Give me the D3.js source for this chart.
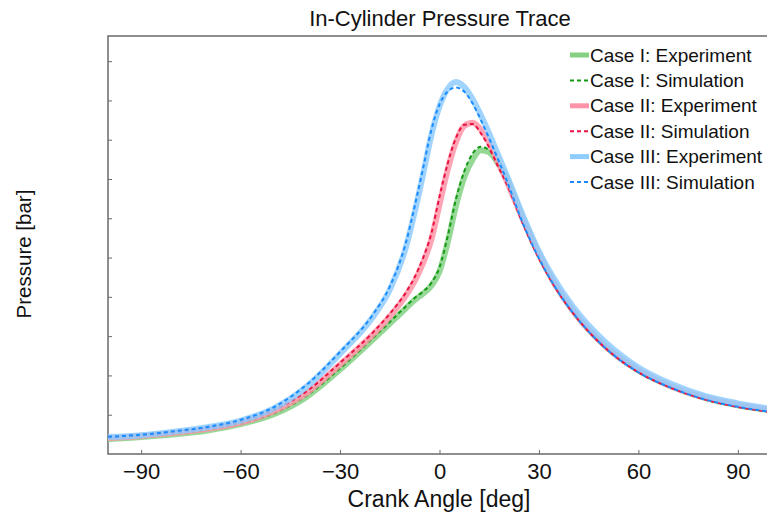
<!DOCTYPE html>
<html>
<head>
<meta charset="utf-8">
<script src="https://cdn.jsdelivr.net/npm/d3@7"></script>
<style>
  body { margin: 0; background: #fff; }
  text { font-family: "Liberation Sans", Arial, sans-serif; }
</style>
</head>
<body>
<div id="chart"></div>
<script>
// crank angle grid [deg]
var crankAngle = [-100, -90, -80, -70, -60, -50, -40, -30, -20, -15, -10, -7.5, -5, -2.5, 0,
  2.5, 5, 7.5, 10, 12.5, 15, 17.5, 20, 25, 30, 35, 40, 50, 60, 70, 80, 90, 100];

// pressure [bar]
var caseIExp = [3.8, 4.3, 5.0, 6.0, 7.6, 10.1, 14.6, 21.5, 29.2, 33.2, 37.2, 39.2, 40.8, 42.8, 46.5,
  54.0, 63.3, 70.5, 75.0, 77.3, 76.8, 74.2, 70.8, 60.5, 51.0, 43.0, 36.8, 27.5, 21.3, 17.2, 14.3, 12.4, 11.1];
var caseISim = [3.9, 4.4, 5.1, 6.1, 7.7, 10.3, 14.9, 21.8, 29.6, 33.6, 37.7, 39.7, 41.3, 43.5, 47.5,
  55.5, 65.0, 72.0, 76.5, 78.2, 77.3, 73.8, 69.8, 59.0, 49.8, 42.3, 36.2, 27.0, 20.8, 16.8, 13.9, 12.0, 10.7];
var caseIIExp = [4.1, 4.6, 5.4, 6.4, 8.0, 10.9, 15.6, 22.8, 30.5, 35.0, 40.5, 44.0, 48.5, 54.5, 63.5,
  72.5, 79.5, 83.5, 84.3, 82.5, 79.2, 74.5, 70.0, 60.0, 50.8, 43.0, 36.8, 27.5, 21.4, 17.2, 14.4, 12.5, 11.2];
var caseIISim = [4.2, 4.7, 5.5, 6.5, 8.2, 11.2, 16.0, 23.2, 31.0, 35.7, 41.3, 45.0, 49.8, 56.0, 65.5,
  74.0, 80.5, 83.8, 84.0, 81.6, 78.0, 73.5, 69.3, 59.0, 49.8, 42.3, 36.2, 27.0, 20.8, 16.8, 13.9, 12.0, 10.7];
var caseIIIExp = [4.3, 4.8, 5.7, 6.8, 8.5, 11.6, 17.2, 25.5, 35.0, 41.8, 53.0, 61.5, 71.0, 81.0, 88.5,
  93.0, 94.7, 93.4, 90.3, 86.2, 81.5, 76.5, 71.5, 61.0, 51.5, 44.0, 37.8, 28.5, 22.0, 17.8, 14.8, 12.9, 11.5];
var caseIIISim = [4.4, 4.9, 5.8, 6.9, 8.7, 11.9, 17.7, 26.0, 35.6, 42.6, 54.2, 63.0, 72.5, 82.3, 89.0,
  92.3, 93.3, 92.2, 89.2, 85.0, 80.3, 75.3, 70.2, 59.0, 49.8, 42.3, 36.2, 27.0, 20.8, 16.8, 13.9, 12.0, 10.7];

var xTicks = [-90, -60, -30, 0, 30, 60, 90];
var yTicks = [10, 20, 30, 40, 50, 60, 70, 80, 90, 100];

var series = [
  { name: "Case I: Experiment",   values: caseIExp,   color: "#84d184", width: 6, dash: null },
  { name: "Case I: Simulation",   values: caseISim,   color: "#149a14", width: 2, dash: "4,3" },
  { name: "Case II: Experiment",  values: caseIIExp,  color: "#ff94a8", width: 6, dash: null },
  { name: "Case II: Simulation",  values: caseIISim,  color: "#ea1240", width: 2, dash: "4,3" },
  { name: "Case III: Experiment", values: caseIIIExp, color: "#8fcdff", width: 6, dash: null },
  { name: "Case III: Simulation", values: caseIIISim, color: "#1a8cff", width: 2, dash: "4,3" }
];

var W = 767, H = 518;
var margin = { top: 36, left: 108, right: 771, bottom: 454 };

var svg = d3.select("#chart").append("svg")
  .attr("width", W)
  .attr("height", H);

var x = d3.scaleLinear().domain([-100, 100]).range([margin.left, margin.right]);
var y = d3.scaleLinear().domain([0, 106.4]).range([margin.bottom, margin.top]);

svg.append("clipPath").attr("id", "plotClip")
  .append("rect")
  .attr("x", margin.left).attr("y", margin.top)
  .attr("width", margin.right - margin.left)
  .attr("height", margin.bottom - margin.top);

// frame
svg.append("path")
  .attr("d", "M" + margin.right + "," + margin.top + "H" + margin.left + "V" + margin.bottom + "H" + margin.right)
  .attr("fill", "none")
  .attr("stroke", "#6a6a6a")
  .attr("stroke-width", 1.5);

// x axis (inward ticks)
var xAxis = svg.append("g")
  .attr("transform", "translate(0," + margin.bottom + ")")
  .call(d3.axisBottom(x).tickValues(xTicks).tickSizeInner(-4).tickSizeOuter(0).tickPadding(9));
xAxis.select(".domain").remove();
xAxis.selectAll(".tick line").attr("stroke", "#6a6a6a");
xAxis.selectAll(".tick text")
  .attr("font-size", 22)
  .attr("fill", "#111");

// y axis (ticks only, no labels)
var yAxis = svg.append("g")
  .attr("transform", "translate(" + margin.left + ",0)")
  .call(d3.axisLeft(y).tickValues(yTicks).tickSizeInner(-4).tickSizeOuter(0).tickFormat(""));
yAxis.select(".domain").remove();
yAxis.selectAll(".tick line").attr("stroke", "#6a6a6a");

var line = d3.line()
  .x(function(d) { return x(d[0]); })
  .y(function(d) { return y(d[1]); })
  .curve(d3.curveMonotoneX);

var plot = svg.append("g").attr("clip-path", "url(#plotClip)");

series.forEach(function(s) {
  var pts = crankAngle.map(function(a, i) { return [a, s.values[i]]; });
  plot.append("path")
    .datum(pts)
    .attr("d", line)
    .attr("fill", "none")
    .attr("stroke", s.color)
    .attr("stroke-width", s.width)
    .attr("stroke-opacity", s.dash ? 1 : 0.85)
    .attr("stroke-dasharray", s.dash);
});

// legend
var legend = svg.append("g").attr("transform", "translate(570,55)");
series.forEach(function(s, i) {
  var g = legend.append("g").attr("transform", "translate(0," + (i * 25.4) + ")");
  g.append("line")
    .attr("x1", 0).attr("x2", 19)
    .attr("stroke", s.color)
    .attr("stroke-width", s.dash ? 2 : 5)
    .attr("stroke-dasharray", s.dash);
  g.append("text")
    .attr("x", 20)
    .attr("dy", "0.35em")
    .attr("font-size", 19)
    .attr("fill", "#111")
    .text(s.name);
});

// title and labels
svg.append("text")
  .attr("x", 440).attr("y", 26)
  .attr("text-anchor", "middle")
  .attr("font-size", 22)
  .attr("fill", "#111")
  .text("In-Cylinder Pressure Trace");

svg.append("text")
  .attr("x", 439).attr("y", 507)
  .attr("text-anchor", "middle")
  .attr("font-size", 23)
  .attr("fill", "#111")
  .text("Crank Angle [deg]");

svg.append("text")
  .attr("transform", "translate(31,254) rotate(-90)")
  .attr("text-anchor", "middle")
  .attr("font-size", 20.5)
  .attr("fill", "#111")
  .text("Pressure [bar]");
</script>
</body>
</html>
